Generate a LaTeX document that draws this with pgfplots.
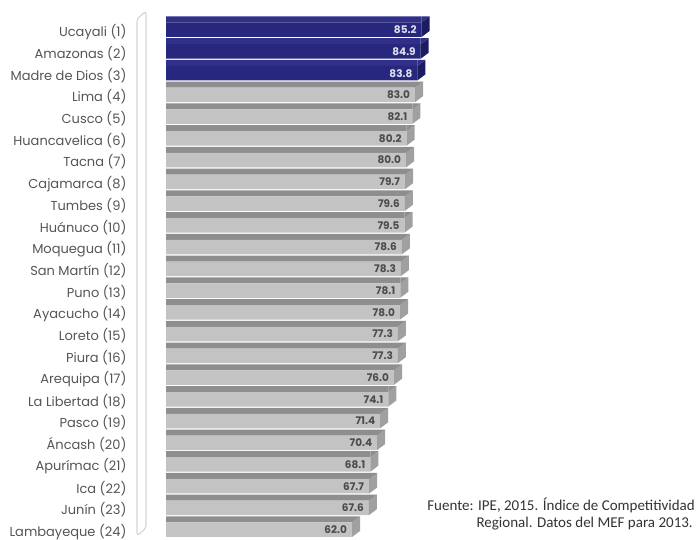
\documentclass[border=0pt]{standalone}
\usepackage{pgfplots}
\pgfplotsset{compat=1.18}
\usepackage{pgfplotstable}
\usepackage{fontspec}
\setmainfont{Poppins}
\newfontfamily\srcfont{Carlito}

\definecolor{navyfront}{HTML}{27277D}
\definecolor{navytop}{HTML}{30308A}
\definecolor{navyside}{HTML}{1C1C60}
\definecolor{grayfront}{HTML}{C3C3C3}
\definecolor{graytop}{HTML}{8E8E8E}
\definecolor{grayside}{HTML}{A0A0A0}
\definecolor{labelgray}{HTML}{555555}
\definecolor{wallgray}{HTML}{D4D4D4}

% right end of a 3D bar: side face plus the tip of the top face
\pgfdeclareplotmark{navyend}{%
  \pgfsetfillcolor{navyside}%
  \pgfpathmoveto{\pgfpoint{0pt}{-7.25pt}}%
  \pgfpathlineto{\pgfpoint{0pt}{7.25pt}}%
  \pgfpathlineto{\pgfpoint{8pt}{13.25pt}}%
  \pgfpathlineto{\pgfpoint{8pt}{-1.25pt}}%
  \pgfpathclose\pgfusepathqfill
  \pgfsetfillcolor{navytop}%
  \pgfpathmoveto{\pgfpoint{0pt}{7.25pt}}%
  \pgfpathlineto{\pgfpoint{8pt}{13.25pt}}%
  \pgfpathlineto{\pgfpoint{0pt}{13.25pt}}%
  \pgfpathclose\pgfusepathqfill}
\pgfdeclareplotmark{grayend}{%
  \pgfsetfillcolor{grayside}%
  \pgfpathmoveto{\pgfpoint{0pt}{-7.25pt}}%
  \pgfpathlineto{\pgfpoint{0pt}{7.25pt}}%
  \pgfpathlineto{\pgfpoint{8pt}{13.25pt}}%
  \pgfpathlineto{\pgfpoint{8pt}{-1.25pt}}%
  \pgfpathclose\pgfusepathqfill
  \pgfsetfillcolor{graytop}%
  \pgfpathmoveto{\pgfpoint{0pt}{7.25pt}}%
  \pgfpathlineto{\pgfpoint{8pt}{13.25pt}}%
  \pgfpathlineto{\pgfpoint{0pt}{13.25pt}}%
  \pgfpathclose\pgfusepathqfill}

% position (24 = first place) and competitiveness index
\pgfplotstableread{
y  v
24 85.2
23 84.9
22 83.8
}\topthree
\pgfplotstableread{
y  v
21 83.0
20 82.1
19 80.2
18 80.0
17 79.7
16 79.6
15 79.5
14 78.6
13 78.3
12 78.1
11 78.0
10 77.3
9  77.3
8  76.0
7  74.1
6  71.4
5  70.4
4  68.1
3  67.7
2  67.6
1  62.0
}\rest

\begin{document}
\begin{tikzpicture}[x=1pt,y=1pt]
\useasboundingbox (0,0) rectangle (698,540);
% back wall of the 3D chart
\draw[wallgray, line width=1.1pt, fill=white, rounded corners=3pt]
  (137,4) -- (137,521) -- (146,529) -- (146,12) -- cycle;
\begin{axis}[
  at={(166pt,521.17pt)}, anchor=north west,
  scale only axis, width=300pt, height=521.76pt,
  xmin=0, xmax=100, ymin=0.5, ymax=24.5,
  axis line style={draw=none},
  xtick=\empty,
  ytick={1,...,24},
  major tick length=0pt,
  yticklabels={Lambayeque (24),Junín (23),Ica (22),Apurímac (21),Áncash (20),Pasco (19),La Libertad (18),Arequipa (17),Piura (16),Loreto (15),Ayacucho (14),Puno (13),San Martín (12),Moquegua (11),Huánuco (10),Tumbes (9),Cajamarca (8),Tacna (7),Huancavelica (6),Cusco (5),Lima (4),Madre de Dios (3),Amazonas (2),Ucayali (1)},
  yticklabel style={font=\fontsize{13}{15}\selectfont, text=labelgray, xshift=-36pt, yshift=-2pt},
  clip=false,
  every node near coord/.append style={anchor=east, xshift=-1.5pt, font=\bfseries\fontsize{10.5}{12}\selectfont},
]
% top faces
\addplot[xbar, bar width=6pt, bar shift=10.25pt, fill=navytop, draw=none] table[x=v,y=y]{\topthree};
\addplot[xbar, bar width=6pt, bar shift=10.25pt, fill=graytop, draw=none] table[x=v,y=y]{\rest};
% front faces with their values
\addplot[xbar, bar width=14.5pt, bar shift=0pt, fill=navyfront, draw=none,
  nodes near coords={\pgfmathprintnumber[fixed,fixed zerofill,precision=1,assume math mode=true]{\pgfplotspointmeta}},
  every node near coord/.append style={text=white!85!navyfront}]
  table[x=v,y=y]{\topthree};
\addplot[xbar, bar width=14.5pt, bar shift=0pt, fill=grayfront, draw=none,
  nodes near coords={\pgfmathprintnumber[fixed,fixed zerofill,precision=1,assume math mode=true]{\pgfplotspointmeta}},
  every node near coord/.append style={text=black!70}]
  table[x=v,y=y]{\rest};
% side faces
\addplot[only marks, mark=navyend] table[x=v,y=y]{\topthree};
\addplot[only marks, mark=grayend] table[x=v,y=y]{\rest};
\end{axis}
\node[anchor=mid east, inner sep=0pt, font=\srcfont\fontsize{15}{18}\selectfont, text=black!80] at (695,32) {Fuente: IPE, 2015. Índice de Competitividad};
\node[anchor=mid east, inner sep=0pt, font=\srcfont\fontsize{15}{18}\selectfont, text=black!80] at (693,15) {Regional. Datos del MEF para 2013.};
\end{tikzpicture}
\end{document}
